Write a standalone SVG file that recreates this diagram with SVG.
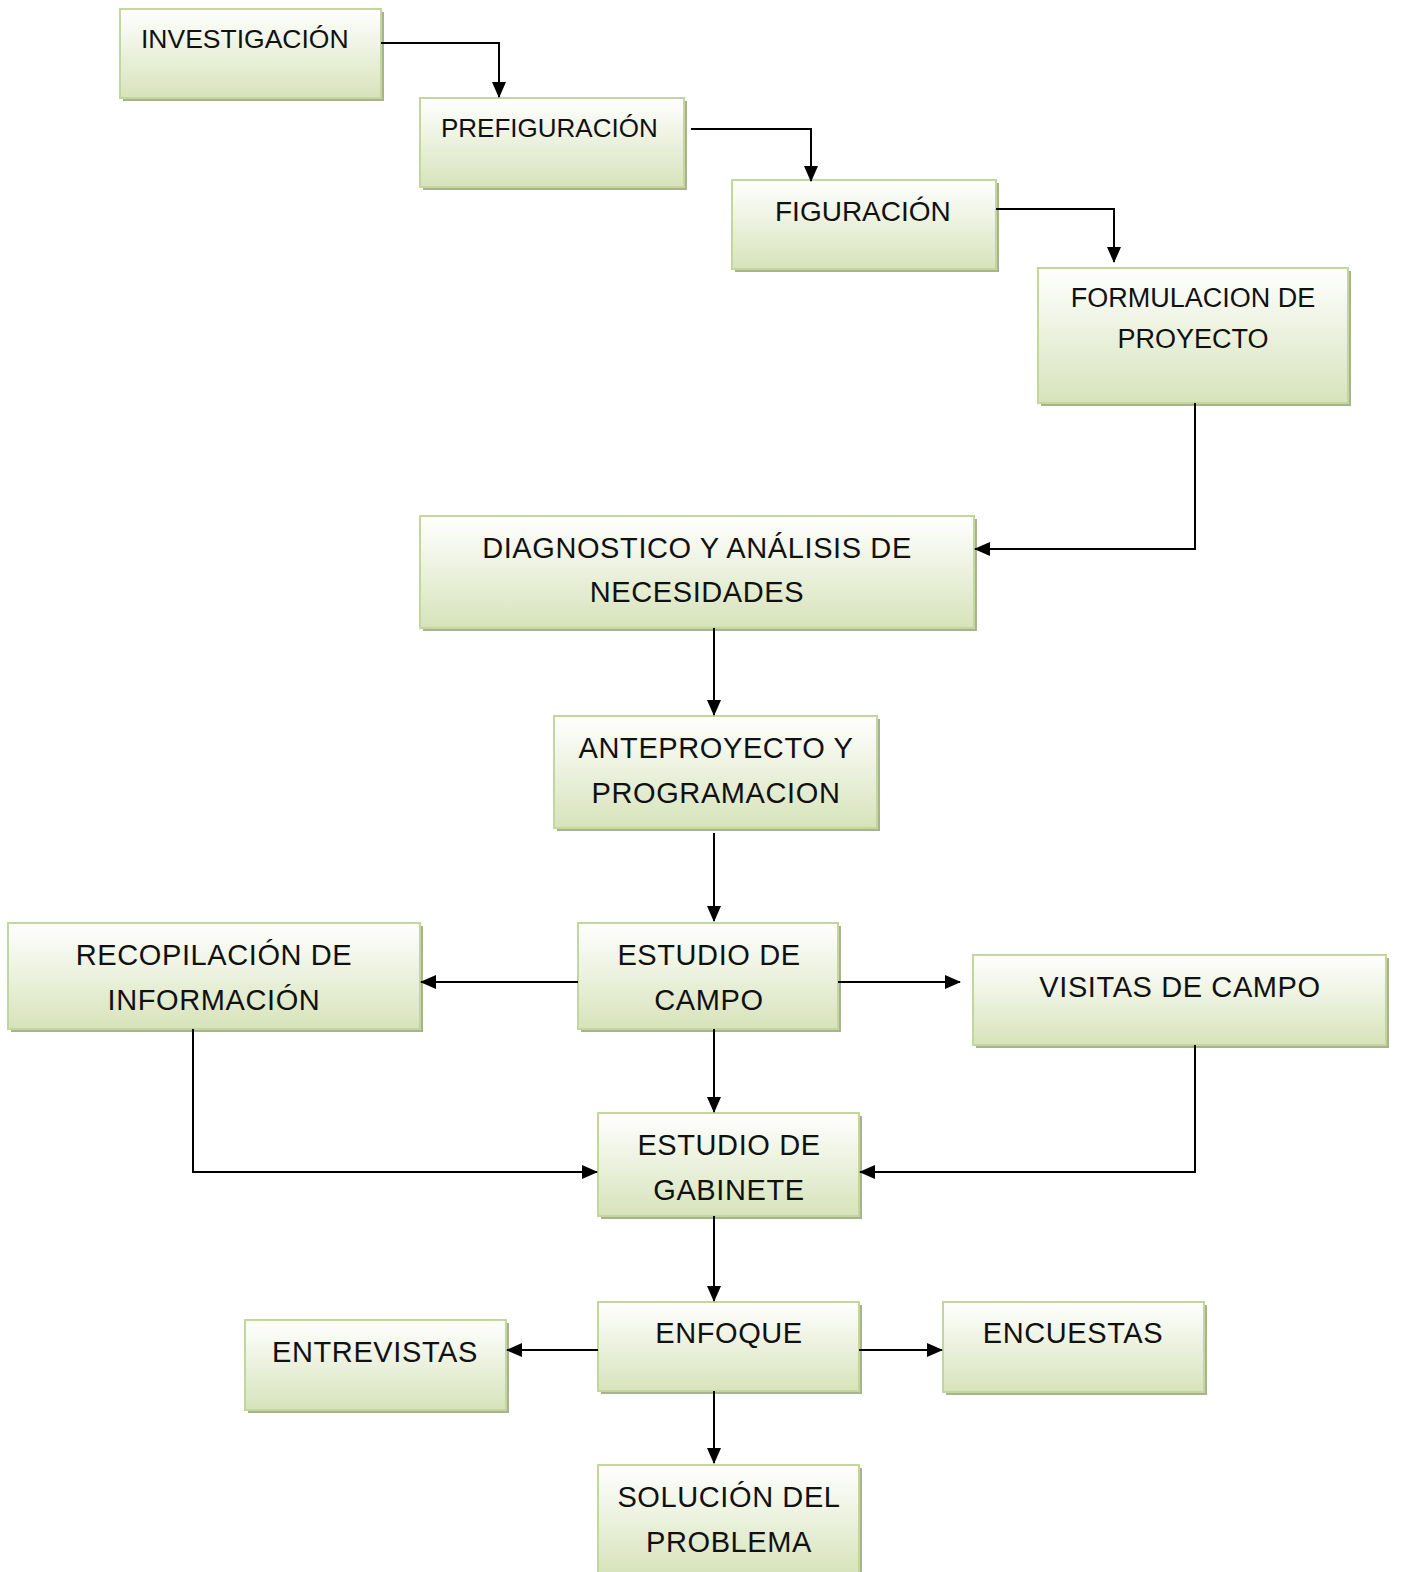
<svg xmlns="http://www.w3.org/2000/svg" width="1403" height="1572" viewBox="0 0 1403 1572">
<defs>
<linearGradient id="g" x1="0" y1="0" x2="0" y2="1">
<stop offset="0" stop-color="#ffffff"/>
<stop offset="1" stop-color="#d7e3bb"/>
</linearGradient>
<marker id="arr" viewBox="0 0 16 14" markerWidth="16" markerHeight="14" refX="15" refY="7" orient="auto" markerUnits="userSpaceOnUse">
<path d="M0,0 L16,7 L0,14 Z" fill="#000"/>
</marker>
</defs>
<style>
.sh{fill:#a8b38d}
.bx{fill:url(#g);stroke:#c3d69b;stroke-width:2}
text{font-family:"Liberation Sans",Arial,sans-serif;font-size:27px;fill:#111}
.c{text-anchor:middle}
.b{font-size:29px;letter-spacing:0.6px}
.ln{fill:none;stroke:#000;stroke-width:2;marker-end:url(#arr)}
</style>
<rect width="1403" height="1572" fill="#fff"/>
<g id="n1"><rect class="sh" x="123" y="12" width="261" height="89"/><rect class="bx" x="120" y="9" width="261" height="89"/><text x="141" y="48" style="font-size:26.5px">INVESTIGACIÓN</text></g>
<g id="n2"><rect class="sh" x="423" y="101" width="264" height="89"/><rect class="bx" x="420" y="98" width="264" height="89"/><text x="441" y="137" style="font-size:26px">PREFIGURACIÓN</text></g>
<g id="n3"><rect class="sh" x="735" y="183" width="264" height="89"/><rect class="bx" x="732" y="180" width="264" height="89"/><text x="775" y="221" style="font-size:28px">FIGURACIÓN</text></g>
<g id="n4"><rect class="sh" x="1041" y="271" width="310" height="135"/><rect class="bx" x="1038" y="268" width="310" height="135"/><text class="c" x="1193" y="307">FORMULACION DE</text><text class="c" x="1193" y="348">PROYECTO</text></g>
<g id="n5"><rect class="sh" x="423" y="519" width="554" height="112"/><rect class="bx" x="420" y="516" width="554" height="112"/><text class="c b" x="697" y="558">DIAGNOSTICO Y ANÁLISIS DE</text><text class="c b" x="697" y="602">NECESIDADES</text></g>
<g id="n6"><rect class="sh" x="557" y="719" width="323" height="112"/><rect class="bx" x="554" y="716" width="323" height="112"/><text class="c b" x="716" y="758">ANTEPROYECTO Y</text><text class="c b" x="716" y="803">PROGRAMACION</text></g>
<g id="n7"><rect class="sh" x="581" y="926" width="260" height="106"/><rect class="bx" x="578" y="923" width="260" height="106"/><text class="c b" x="709" y="965">ESTUDIO DE</text><text class="c b" x="709" y="1010">CAMPO</text></g>
<g id="n8"><rect class="sh" x="11" y="926" width="412" height="106"/><rect class="bx" x="8" y="923" width="412" height="106"/><text class="c b" x="214" y="965">RECOPILACIÓN DE</text><text class="c b" x="214" y="1010">INFORMACIÓN</text></g>
<g id="n9"><rect class="sh" x="976" y="958" width="413" height="90"/><rect class="bx" x="973" y="955" width="413" height="90"/><text class="c b" x="1180" y="997">VISITAS DE CAMPO</text></g>
<g id="n10"><rect class="sh" x="601" y="1116" width="261" height="103"/><rect class="bx" x="598" y="1113" width="261" height="103"/><text class="c b" x="729" y="1155">ESTUDIO DE</text><text class="c b" x="729" y="1200">GABINETE</text></g>
<g id="n11"><rect class="sh" x="601" y="1305" width="261" height="89"/><rect class="bx" x="598" y="1302" width="261" height="89"/><text class="c b" x="729" y="1343">ENFOQUE</text></g>
<g id="n12"><rect class="sh" x="248" y="1323" width="261" height="90"/><rect class="bx" x="245" y="1320" width="261" height="90"/><text class="c b" x="375" y="1362">ENTREVISTAS</text></g>
<g id="n13"><rect class="sh" x="946" y="1305" width="261" height="90"/><rect class="bx" x="943" y="1302" width="261" height="90"/><text class="c b" x="1073" y="1343">ENCUESTAS</text></g>
<g id="n14"><rect class="sh" x="601" y="1468" width="261" height="110"/><rect class="bx" x="598" y="1465" width="261" height="110"/><text class="c b" x="729" y="1507">SOLUCIÓN DEL</text><text class="c b" x="729" y="1552">PROBLEMA</text></g>
<g id="connectors">
<path class="ln" d="M381,43 H499 V97"/>
<path class="ln" d="M691,129 H811 V181"/>
<path class="ln" d="M996,209 H1114 V262"/>
<path class="ln" d="M1195,403 V549 H975"/>
<path class="ln" d="M714,628 V715"/>
<path class="ln" d="M714,833 V921"/>
<path class="ln" d="M578,982 H421"/>
<path class="ln" d="M838,982 H960"/>
<path class="ln" d="M714,1029 V1112"/>
<path class="ln" d="M193,1029 V1172 H597"/>
<path class="ln" d="M1195,1045 V1172 H860"/>
<path class="ln" d="M714,1216 V1301"/>
<path class="ln" d="M598,1350 H507"/>
<path class="ln" d="M859,1350 H942"/>
<path class="ln" d="M714,1391 V1463"/>
</g>
</svg>
